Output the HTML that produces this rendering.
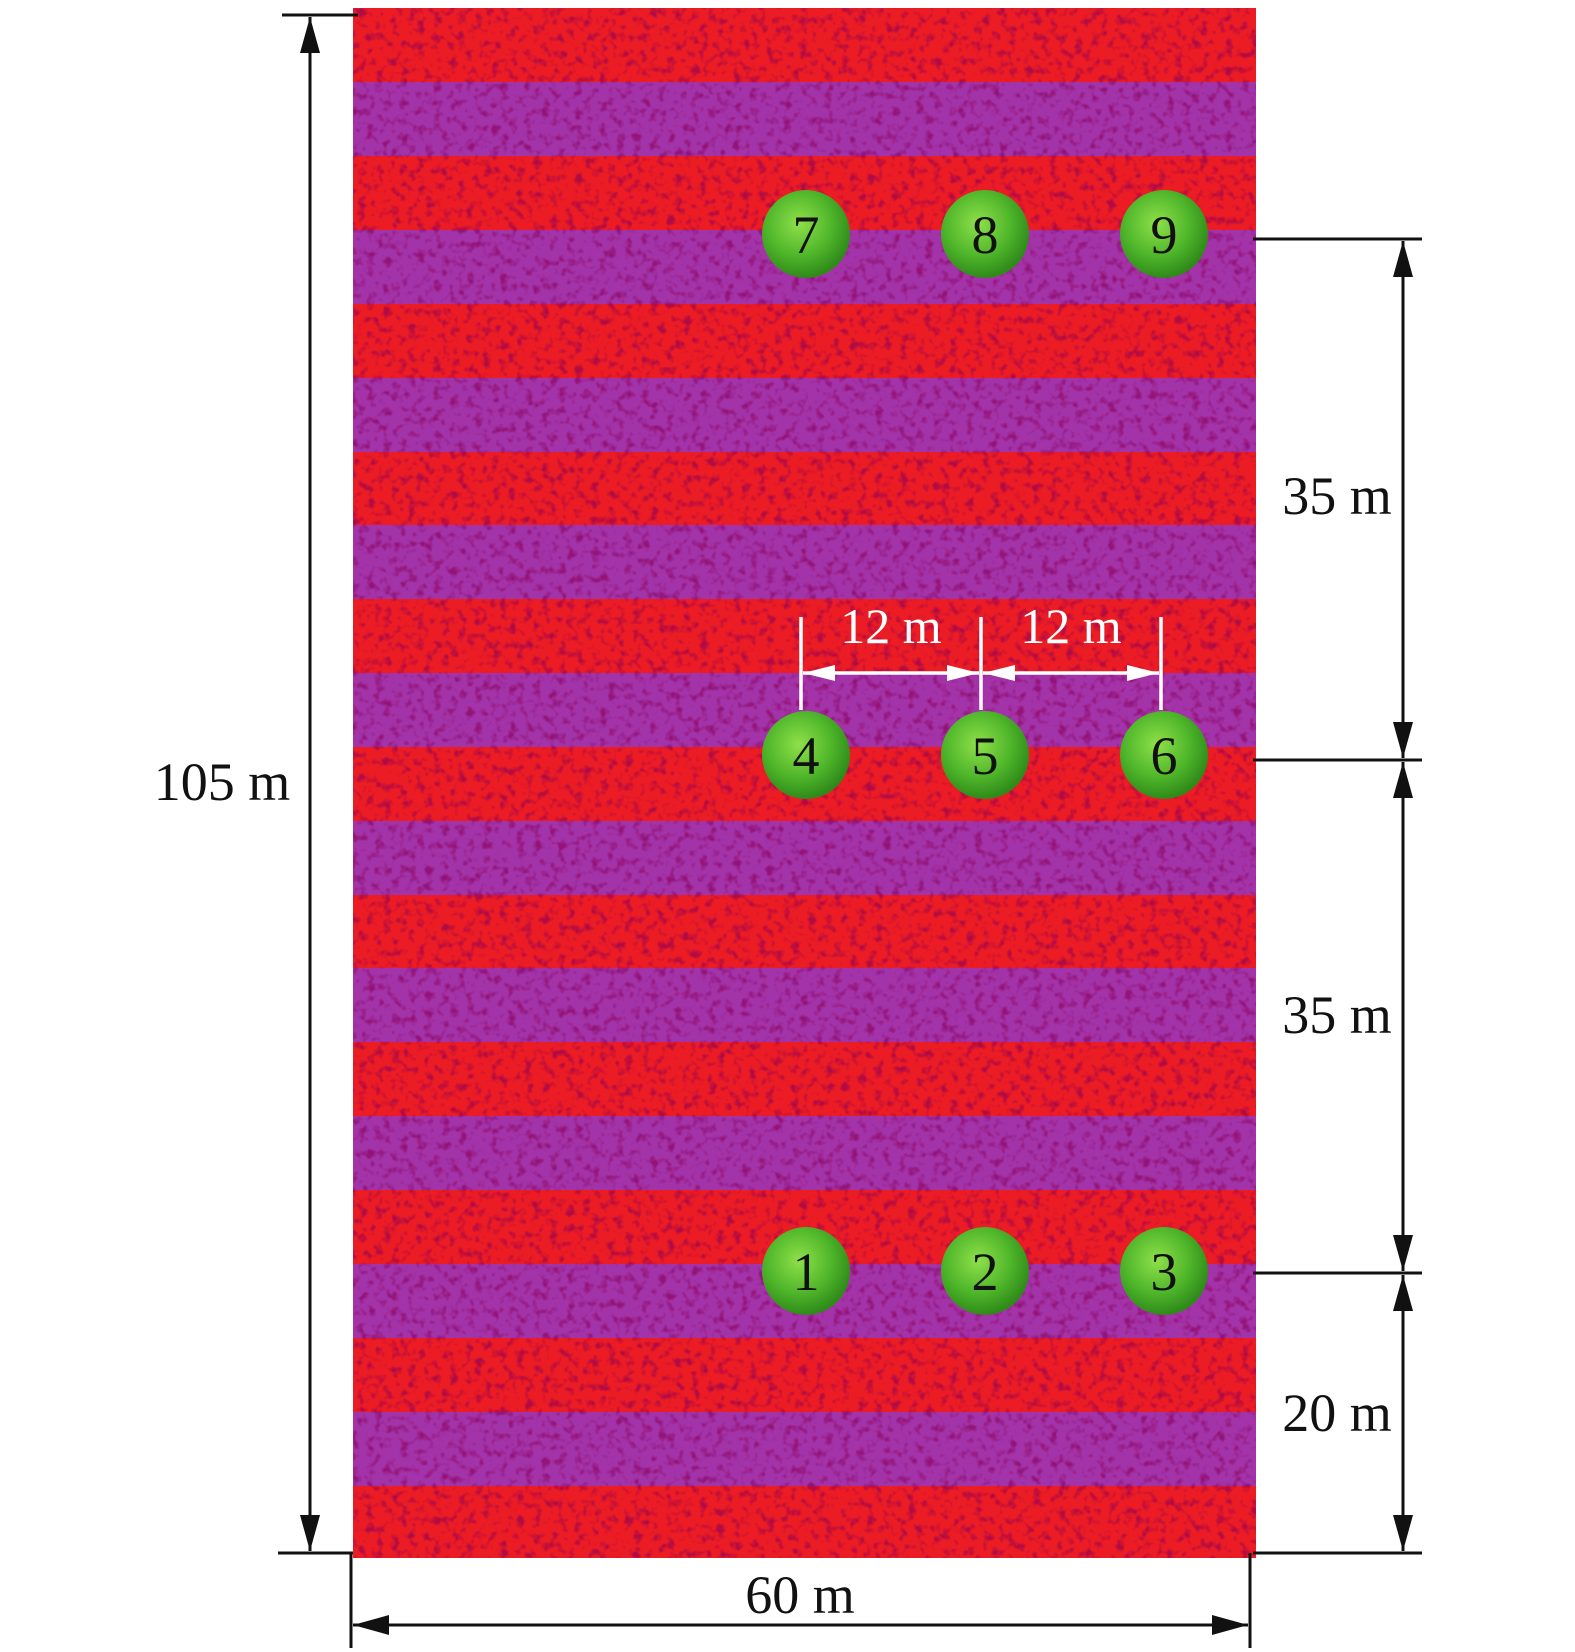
<!DOCTYPE html>
<html><head><meta charset="utf-8"><style>
html,body{margin:0;padding:0;background:#fff}
svg{display:block}
text{font-family:"Liberation Serif",serif}
</style></head><body>
<svg width="1575" height="1652" viewBox="0 0 1575 1652" xmlns="http://www.w3.org/2000/svg">
<defs>
<filter id="n" x="0" y="0" width="100%" height="100%">
<feTurbulence type="fractalNoise" baseFrequency="0.12" numOctaves="2" seed="3" result="t"/>
<feColorMatrix in="t" type="matrix" values="0 0 0 0 0.25  0 0 0 0 0  0 0 0 0 0.1  0 0 0 -3.5 1.75" result="m"/>
<feComposite in="m" in2="SourceGraphic" operator="in"/>
</filter>
<radialGradient id="g" cx="0.42" cy="0.38" r="0.62">
<stop offset="0" stop-color="#8fe04a"/><stop offset="0.6" stop-color="#4fb62a"/><stop offset="1" stop-color="#2f8a1a"/>
</radialGradient>
<marker id="ab" viewBox="0 0 36 20" refX="36" refY="10" markerWidth="36" markerHeight="20" markerUnits="userSpaceOnUse" orient="auto-start-reverse"><path d="M0,0 L36,10 L0,20z" fill="#111"/></marker>
<marker id="aw" viewBox="0 0 32 16" refX="32" refY="8" markerWidth="32" markerHeight="16" markerUnits="userSpaceOnUse" orient="auto-start-reverse"><path d="M0,0 L32,8 L0,16z" fill="#fff"/></marker>
</defs>
<g id="field">
<rect x="353" y="8" width="903" height="1550" fill="#ec1c24"/>
<g fill="#a333a8">
<rect x="353" y="82" width="903" height="74"/>
<rect x="353" y="230" width="903" height="74"/>
<rect x="353" y="378" width="903" height="74"/>
<rect x="353" y="525" width="903" height="74"/>
<rect x="353" y="673" width="903" height="74"/>
<rect x="353" y="821" width="903" height="74"/>
<rect x="353" y="968" width="903" height="74"/>
<rect x="353" y="1116" width="903" height="74"/>
<rect x="353" y="1264" width="903" height="74"/>
<rect x="353" y="1412" width="903" height="74"/>
</g>
<rect x="353" y="8" width="903" height="1550" fill="#000" filter="url(#n)" opacity="0.6"/>
</g>
<g>
<circle cx="806" cy="234" r="44" fill="url(#g)"/><circle cx="985" cy="234" r="44" fill="url(#g)"/><circle cx="1164" cy="234" r="44" fill="url(#g)"/>
<circle cx="806" cy="755" r="44" fill="url(#g)"/><circle cx="985" cy="755" r="44" fill="url(#g)"/><circle cx="1164" cy="755" r="44" fill="url(#g)"/>
<circle cx="806" cy="1271" r="44" fill="url(#g)"/><circle cx="985" cy="1271" r="44" fill="url(#g)"/><circle cx="1164" cy="1271" r="44" fill="url(#g)"/>
</g>
<g font-size="54" fill="#111" text-anchor="middle">
<text x="806" y="253">7</text><text x="985" y="253">8</text><text x="1164" y="253">9</text>
<text x="806" y="774">4</text><text x="985" y="774">5</text><text x="1164" y="774">6</text>
<text x="806" y="1290">1</text><text x="985" y="1290">2</text><text x="1164" y="1290">3</text>
</g>
<g stroke="#fff" stroke-width="3.5">
<line x1="801" y1="617" x2="801" y2="710"/><line x1="981" y1="617" x2="981" y2="710"/><line x1="1161" y1="617" x2="1161" y2="710"/>
<line x1="803" y1="673" x2="979" y2="673" marker-start="url(#aw)" marker-end="url(#aw)"/>
<line x1="983" y1="673" x2="1159" y2="673" marker-start="url(#aw)" marker-end="url(#aw)"/>
</g>
<g font-size="50" fill="#fff" text-anchor="middle">
<text x="891" y="643">12 m</text><text x="1071" y="643">12 m</text>
</g>
<g stroke="#111" stroke-width="3" fill="none">
<line x1="282" y1="15" x2="358" y2="15"/>
<line x1="278" y1="1553" x2="353" y2="1553"/>
<line x1="310" y1="17" x2="310" y2="1551" marker-start="url(#ab)" marker-end="url(#ab)"/>
<line x1="351" y1="1553" x2="351" y2="1648"/>
<line x1="1250" y1="1553" x2="1250" y2="1648"/>
<line x1="353" y1="1625" x2="1248" y2="1625" marker-start="url(#ab)" marker-end="url(#ab)"/>
<line x1="1253" y1="239" x2="1422" y2="239"/>
<line x1="1253" y1="760" x2="1422" y2="760"/>
<line x1="1253" y1="1273" x2="1422" y2="1273"/>
<line x1="1253" y1="1553" x2="1422" y2="1553"/>
<line x1="1403" y1="241" x2="1403" y2="758" marker-start="url(#ab)" marker-end="url(#ab)"/>
<line x1="1403" y1="762" x2="1403" y2="1271" marker-start="url(#ab)" marker-end="url(#ab)"/>
<line x1="1403" y1="1275" x2="1403" y2="1551" marker-start="url(#ab)" marker-end="url(#ab)"/>
</g>
<g font-size="54" fill="#111" text-anchor="middle">
<text x="1337" y="514">35 m</text>
<text x="1337" y="1033">35 m</text>
<text x="1337" y="1431">20 m</text>
<text x="222" y="800">105 m</text>
<text x="800" y="1613">60 m</text>
</g>
</svg>
</body></html>
